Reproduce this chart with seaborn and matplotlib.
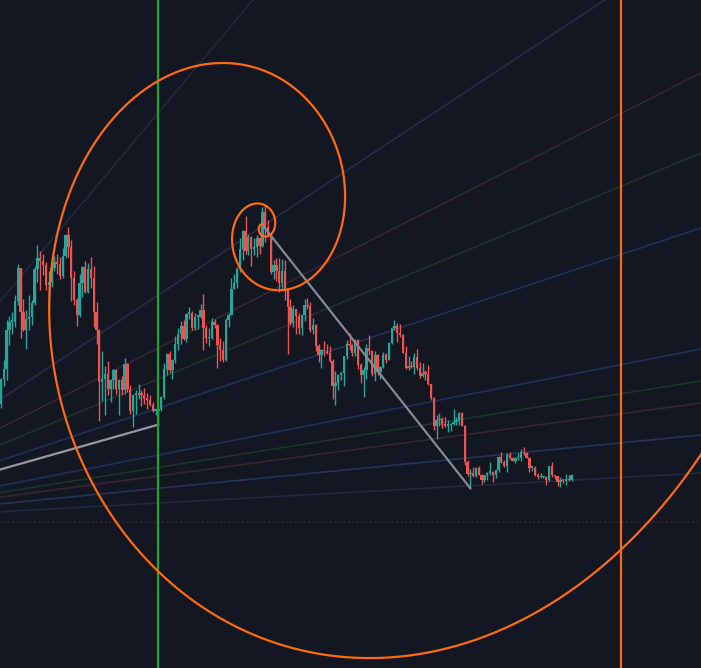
import numpy as np
import pandas as pd
import matplotlib
matplotlib.use("Agg")
import matplotlib.pyplot as plt
import seaborn as sns

BG = "#131722"
sns.set_theme(style="dark", rc={"axes.facecolor": BG, "figure.facecolor": BG})

# ---- price data: 3-day candles starting 2021-02-01, prices in k USD ----
period_days = 3
first_open = 33.1
close = [37.6, 39.3, 46.4, 47.9, 47.9, 51.6, 57.5, 49.7, 46.3, 48.4,
         48.8, 51.3, 57.3, 59.3, 58.8, 58.1, 54.5, 55.0, 57.6, 58.7,
         58.2, 56.1, 59.8, 63.5, 61.3, 55.7, 51.7, 49.1, 54.8, 57.8,
         53.3, 57.4, 55.8, 49.7, 46.4, 37.0, 37.5, 38.4, 35.7, 37.3,
         39.2, 35.8, 37.3, 35.6, 40.2, 35.8, 31.7, 34.7, 34.7, 35.0,
         34.7, 33.9, 33.8, 32.9, 31.8, 31.8, 32.1, 34.3, 39.4, 42.0,
         39.2, 40.9, 43.8, 45.6, 47.1, 44.7, 49.3, 49.5, 46.8, 48.8,
         48.8, 50.0, 46.8, 44.9, 44.9, 47.8, 47.3, 43.6, 42.8, 41.0,
         48.1, 49.1, 53.8, 54.9, 57.4, 60.9, 64.3, 60.7, 63.1, 61.0,
         61.3, 63.0, 61.5, 67.6, 64.9, 63.5, 56.9, 58.1, 57.1, 54.8,
         57.0, 53.6, 50.6, 47.6, 50.1, 48.9, 46.7, 49.0, 50.8, 50.7,
         46.4, 47.3, 43.4, 41.8, 42.7, 42.6, 42.2, 40.7, 36.3, 36.9,
         38.2, 38.7, 41.6, 43.9, 43.6, 42.2, 44.6, 40.1, 38.3, 39.2,
         43.2, 42.5, 38.4, 41.9, 38.8, 39.7, 41.8, 41.0, 44.0, 46.8,
         47.1, 45.8, 45.5, 42.3, 39.5, 39.9, 39.7, 41.5, 39.5, 38.1,
         38.6, 38.5, 36.6, 34.1, 29.0, 30.1, 30.4, 29.2, 29.1, 29.2,
         29.4, 29.8, 29.9, 31.4, 29.1, 22.5, 20.4, 20.6, 20.0, 21.5,
         20.3, 19.3, 20.2, 20.6, 20.8, 20.2, 21.2, 23.4, 22.6, 21.9,
         23.8, 23.3, 22.8, 23.2, 23.2, 24.4, 24.1, 23.3, 21.5, 21.5,
         20.3, 19.8, 19.8, 19.8, 19.3, 21.8, 20.2, 20.0, 18.9, 19.3,
         19.2, 19.4, 19.3, 20.3]
high = [37.7, 40.9, 48.1, 48.9, 49.7, 52.6, 58.3, 57.5, 52.0, 50.0,
        52.6, 51.8, 58.0, 61.7, 60.6, 60.0, 58.6, 57.1, 58.4, 59.7,
        60.0, 59.5, 61.2, 63.7, 64.9, 62.6, 57.0, 52.1, 56.4, 58.0,
        58.9, 58.4, 59.5, 57.9, 51.4, 46.6, 42.5, 39.8, 40.8, 37.5,
        39.4, 39.3, 37.5, 38.0, 41.3, 40.5, 36.4, 34.8, 35.5, 36.6,
        35.6, 35.9, 35.0, 34.6, 33.3, 32.2, 32.4, 34.5, 40.5, 42.3,
        42.6, 41.2, 45.3, 46.8, 48.0, 48.1, 49.4, 50.5, 49.8, 49.4,
        48.9, 51.0, 52.9, 47.3, 46.8, 48.5, 48.3, 47.5, 45.0, 44.4,
        48.5, 49.5, 55.7, 56.5, 57.8, 62.9, 64.5, 67.0, 63.7, 63.3,
        62.9, 63.5, 63.1, 68.5, 69.0, 66.3, 63.6, 59.0, 59.3, 59.4,
        59.2, 59.0, 53.9, 51.9, 50.8, 50.2, 49.4, 49.3, 51.9, 52.1,
        51.4, 48.6, 47.5, 43.8, 43.0, 44.4, 43.8, 43.5, 41.1, 38.9,
        38.4, 38.9, 41.7, 44.5, 45.8, 43.9, 44.8, 44.7, 40.4, 39.7,
        43.8, 45.4, 42.8, 42.6, 42.0, 39.9, 42.4, 42.3, 44.2, 46.9,
        48.2, 47.6, 47.4, 45.7, 43.4, 41.6, 40.8, 42.2, 42.9, 40.6,
        40.4, 39.1, 40.0, 36.7, 34.3, 31.0, 31.4, 30.7, 30.6, 30.2,
        29.6, 32.2, 30.6, 31.5, 31.6, 29.2, 23.0, 21.3, 21.7, 21.7,
        21.9, 20.4, 20.3, 20.8, 22.5, 20.9, 21.3, 23.6, 24.3, 23.0,
        24.2, 24.4, 23.5, 23.4, 24.2, 24.9, 25.2, 24.3, 23.4, 21.7,
        21.8, 20.6, 20.5, 20.0, 20.0, 21.9, 22.6, 20.3, 20.1, 19.9,
        19.4, 20.4, 20.2, 20.4]
low = [32.3, 36.2, 37.4, 43.7, 45.6, 47.0, 50.8, 45.0, 46.2, 43.0,
       46.3, 47.2, 50.8, 55.0, 53.6, 56.3, 53.5, 50.4, 54.2, 57.0,
       56.5, 55.5, 55.8, 59.4, 59.6, 51.6, 50.9, 47.1, 48.8, 52.4,
       53.0, 53.0, 54.0, 46.9, 43.9, 30.0, 33.5, 31.1, 34.7, 33.4,
       35.7, 34.8, 31.0, 34.6, 34.8, 35.1, 31.3, 28.8, 31.3, 33.9,
       32.7, 33.1, 32.1, 32.6, 31.6, 31.0, 29.3, 31.7, 33.9, 38.3,
       38.7, 37.5, 40.4, 42.8, 43.9, 44.6, 44.2, 48.3, 46.3, 46.4,
       46.5, 48.6, 42.8, 44.1, 43.4, 44.7, 46.8, 39.6, 40.8, 40.6,
       40.8, 46.9, 49.0, 53.7, 54.0, 56.8, 59.0, 60.0, 59.9, 58.0,
       59.9, 59.6, 60.1, 61.3, 62.3, 63.3, 56.5, 55.6, 55.3, 53.3,
       53.6, 51.7, 42.0, 47.3, 46.9, 45.7, 45.6, 45.5, 48.0, 50.1,
       46.0, 45.7, 42.5, 40.6, 39.6, 41.7, 42.0, 40.6, 34.0, 32.9,
       35.5, 37.3, 36.3, 41.1, 42.8, 41.7, 41.6, 39.4, 36.8, 34.3,
       37.5, 41.8, 38.0, 37.2, 38.2, 37.6, 39.5, 40.5, 40.9, 43.8,
       46.4, 44.2, 45.1, 42.2, 39.3, 39.2, 39.5, 38.5, 39.2, 37.7,
       37.9, 37.4, 36.4, 33.7, 28.3, 26.7, 29.1, 28.7, 28.8, 28.0,
       28.2, 29.3, 29.2, 29.2, 29.0, 22.1, 20.1, 17.6, 19.8, 19.9,
       20.2, 18.6, 18.9, 19.3, 20.3, 18.9, 19.6, 20.7, 22.3, 21.6,
       20.7, 23.1, 22.7, 22.4, 22.9, 22.7, 23.8, 23.2, 20.8, 20.9,
       20.1, 19.5, 19.6, 19.6, 18.5, 19.2, 19.9, 19.5, 18.3, 18.1,
       18.7, 18.5, 19.2, 19.2]

# ---- visible window (days since 2021-02-01, k USD) ----
x_view = (0.0, 748.1)
y_view = (-14.6, 105.9)

# ---- drawings ----
vline_days = [169.0, 662.7]
vline_colors = ["#1fa32a", "#ff6a0d"]

fan_origin_day, fan_origin_price = -197.4, 11.73
fan_end_day = 748.1
fan_end_price = [202.3, 117.4, 92.75, 78.31, 64.78, 42.94, 37.17, 33.2, 27.43, 20.57, 11.73]
fan_colors = ["#222838", "#262c47", "#36252e", "#1d3327", "#1f2e5b", "#1f2e5b",
              "#1d3327", "#36252e", "#273157", "#212740", "#3b242e"]
fan_styles = ["-"] * 10 + [":"]

base_end_day, base_end_price = 169.0, 29.3
trend_days = [282.0, 502.0]
trend_prices = [64.9, 17.8]

spiral_pole_day, spiral_pole_price = 281.0, 64.87
spiral_day_scale, spiral_price_scale = 83.35, 17.51

UP, DOWN = "#26a69a", "#ef5350"
GRAY = "#9598a1"
ORANGE = "#ff6a0d"

# ---- build candles ----
n = min(len(close), len(high), len(low))
c = np.array(close[:n])
o = np.r_[first_open, c[:-1]]
h = np.maximum(np.array(high[:n]), np.maximum(o, c))
lo = np.minimum(np.array(low[:n]), np.minimum(o, c))
day = np.arange(n) * period_days + 1.0
df = pd.DataFrame({"day": day, "open": o, "high": h, "low": lo, "close": c})
df["color"] = np.where(df["close"] >= df["open"], UP, DOWN)

fig = plt.figure(figsize=(7.01, 6.68), dpi=100)
ax = fig.add_axes([0, 0, 1, 1])
ax.set_facecolor(BG)

# fan lines
for p_end, col, ls in zip(fan_end_price, fan_colors, fan_styles):
    sns.lineplot(x=[fan_origin_day, fan_end_day], y=[fan_origin_price, p_end],
                 ax=ax, color=col, linewidth=1.2, linestyle=ls, sort=False,
                 estimator=None, zorder=1)

# candles
ax.vlines(df["day"], df["low"], df["high"], colors=df["color"], linewidth=1.0, zorder=3)
ax.bar(df["day"], np.maximum((df["close"] - df["open"]).abs(), 0.25),
       bottom=np.minimum(df["open"], df["close"]), width=2.5,
       color=df["color"], linewidth=0, zorder=3)

# gray trend lines
sns.lineplot(x=[fan_origin_day, base_end_day], y=[fan_origin_price, base_end_price],
             ax=ax, color=GRAY, linewidth=1.6, sort=False, estimator=None, zorder=4)
sns.lineplot(x=trend_days, y=trend_prices, ax=ax, color="#868993", linewidth=1.6,
             sort=False, estimator=None, zorder=4)

# vertical lines
for d, col in zip(vline_days, vline_colors):
    ax.axvline(d, color=col, linewidth=1.6, zorder=5)

# Fibonacci spiral (golden growth per quarter turn)
b = np.log((1 + 5 ** 0.5) / 2) / (np.pi / 2)
theta = np.linspace(-3.5 * np.pi, 2.2 * np.pi, 3000)
growth = np.exp(b * theta)
sp = pd.DataFrame({
    "day": spiral_pole_day + spiral_day_scale * growth * np.cos(theta),
    "price": spiral_pole_price + spiral_price_scale * growth * np.sin(theta),
})
sns.lineplot(data=sp, x="day", y="price", ax=ax, color=ORANGE, linewidth=1.6,
             sort=False, estimator=None, zorder=6)

ax.set_xlim(*x_view)
ax.set_ylim(*y_view)
ax.set_xticks([])
ax.set_yticks([])
ax.set_xlabel("")
ax.set_ylabel("")
ax.grid(False)
for s in ax.spines.values():
    s.set_visible(False)

fig.savefig("out.png", dpi=100, facecolor=BG)
